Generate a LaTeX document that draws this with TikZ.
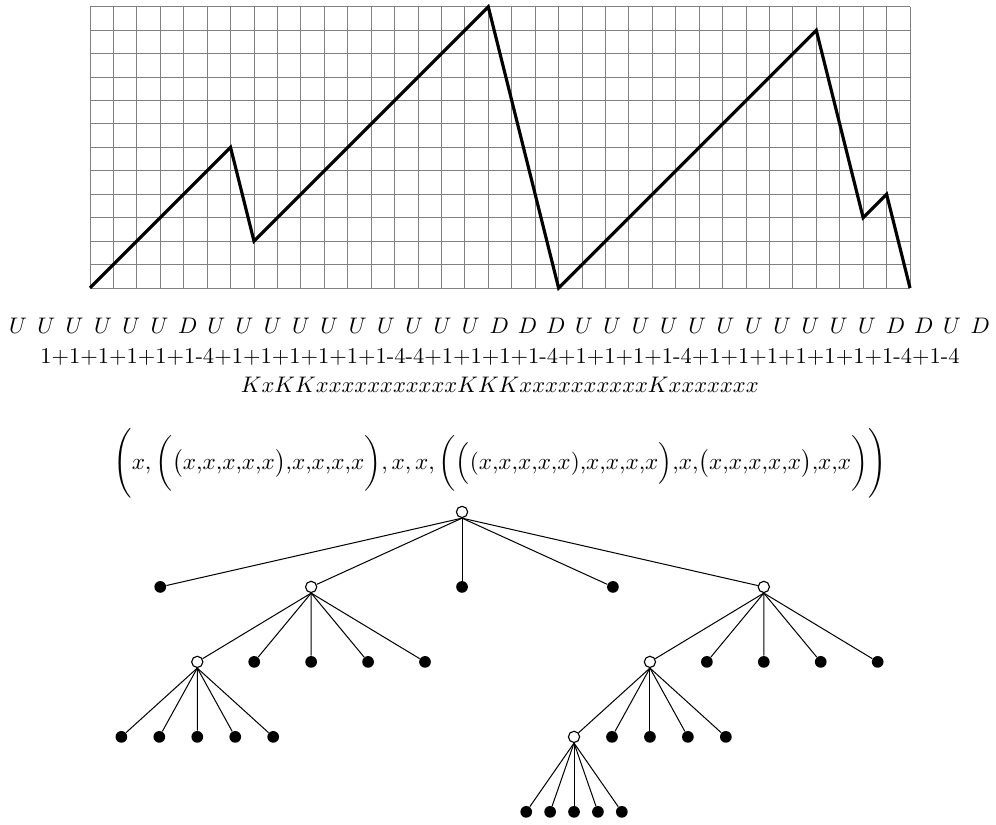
\documentclass[tikz,border=0pt]{standalone}
\usepackage{tikz}

\tikzset{
  opn/.style={circle,draw,fill=white,inner sep=0pt,minimum size=5pt,line width=0.5pt},
  lf/.style={circle,fill=black,inner sep=0pt,minimum size=5.2pt},
  edg/.style={line width=0.45pt},
}

\begin{document}
\begin{tikzpicture}[x=10.41pt,y=10.41pt]
    \useasboundingbox (-3.84,-22.92) rectangle (38.67,12.29);
    % the path on its grid
    \foreach \i in {0,...,35}
      \draw[gray,line width=0.4pt] (\i,0) -- (\i,12);
    \foreach \j in {0,...,12}
      \draw[gray,line width=0.4pt] (0,\j) -- (35,\j);
    \draw[line width=1.4pt] (0,0) -- ++(6,6) -- ++(1,-4) -- ++(10,10) -- ++(3,-12)
      -- ++(11,11) -- ++(2,-8) -- ++(1,1) -- ++(1,-4);
    % the words
    \foreach \s [count=\i from 0] in {U,U,U,U,U,U,D,U,U,U,U,U,U,U,U,U,U,D,D,D,U,U,U,U,U,U,U,U,U,U,U,D,D,U,D}
      \node (w\i) at ({-3.07+\i*1.208},-1.62) {$\s$};
    \node (sm) at (17.5,-2.94) {1+1+1+1+1+1-4+1+1+1+1+1+1-4-4+1+1+1+1-4+1+1+1+1-4+1+1+1+1+1+1+1-4+1-4};
    \node (kx) at (17.5,-4.15) {$KxKKxxxxxxxxxxxKKKxxxxxxxxxxKxxxxxxx$};
    \node[scale=1.03] (fm) at (17.5,-7.5) {$\displaystyle\Biggl(x,\biggl(\bigl(x{,}x{,}x{,}x{,}x\bigr){,}x{,}x{,}x{,}x\biggr),x,x,\biggl(\Bigl((x{,}x{,}x{,}x{,}x){,}x{,}x{,}x{,}x\Bigr){,}x{,}\bigl(x{,}x{,}x{,}x{,}x\bigr){,}x{,}x\biggr)\Biggr)$};
    % the tree
    \node[opn] (r) at (15.88,-9.56) {};
    \node[lf] (a1) at (3.0,-12.76) {};
    \node[opn] (a2) at (9.44,-12.76) {};
    \node[lf] (a3) at (15.88,-12.76) {};
    \node[lf] (a4) at (22.32,-12.76) {};
    \node[opn] (a5) at (28.76,-12.76) {};
    \node[opn] (b1) at (4.58,-15.96) {};
    \foreach \k in {2,...,5}
      \node[lf] (b\k) at ({4.58+(\k-1)*2.43},-15.96) {};
    \foreach \k in {1,...,5}
      \node[lf] (c\k) at ({1.34+(\k-1)*1.62},-19.16) {};
    \node[opn] (d1) at (23.9,-15.96) {};
    \foreach \k in {2,...,5}
      \node[lf] (d\k) at ({23.9+(\k-1)*2.43},-15.96) {};
    \node[opn] (e1) at (20.66,-19.16) {};
    \foreach \k in {2,...,5}
      \node[lf] (e\k) at ({20.66+(\k-1)*1.62},-19.16) {};
    \foreach \k in {1,...,5}
      \node[lf] (f\k) at ({18.62+(\k-1)*1.02},-22.36) {};
    \foreach \k in {1,...,5} {
      \draw[edg] (r.south) -- (a\k);
      \draw[edg] (a2.south) -- (b\k);
      \draw[edg] (b1.south) -- (c\k);
      \draw[edg] (a5.south) -- (d\k);
      \draw[edg] (d1.south) -- (e\k);
      \draw[edg] (e1.south) -- (f\k);
    }
  \end{tikzpicture}
\end{document}
